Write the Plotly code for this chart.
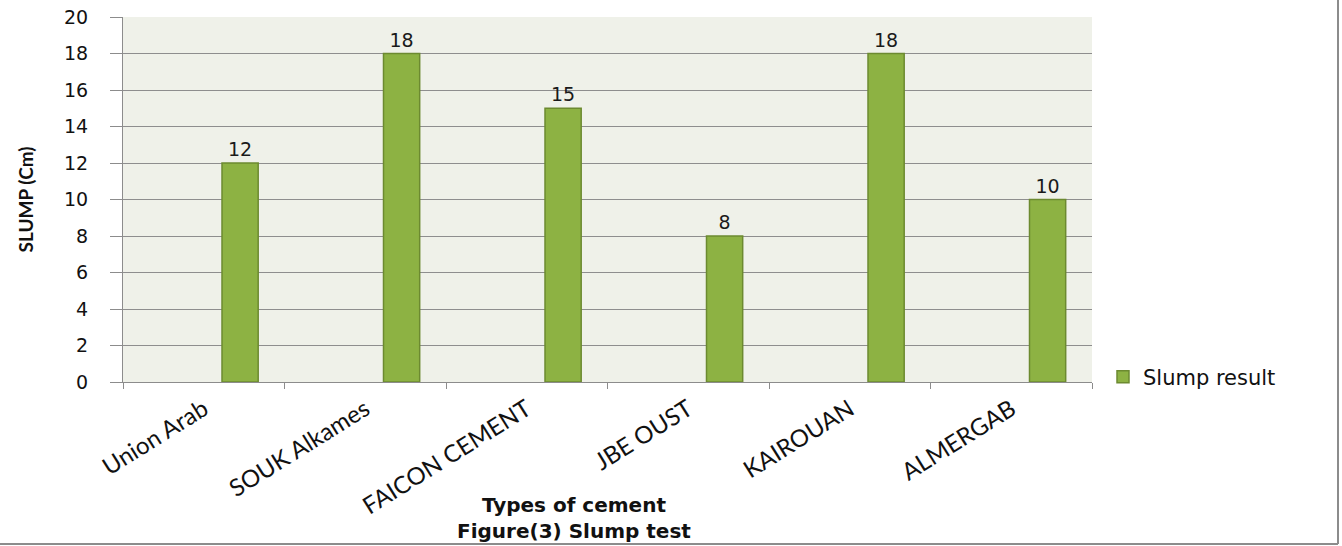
import plotly.graph_objects as go

categories = ["Union Arab", "SOUK Alkames", "FAICON CEMENT", "JBE OUST", "KAIROUAN", "ALMERGAB"]
slump_values = [12, 18, 15, 8, 18, 10]
series_name = "Slump result"
y_ticks = [0, 2, 4, 6, 8, 10, 12, 14, 16, 18, 20]

L, R, T, B = 123, 250, 17, 164
W, H = 1342, 546
pw = W - L - R
ph = H - T - B

def px_x(x):
    return (x - L) / pw

def px_y(y):
    return (H - B - y) / ph

fig = go.Figure()
fig.add_trace(go.Bar(
    x=categories,
    y=slump_values,
    name=series_name,
    offset=0.113,
    width=0.224,
    marker=dict(color="#8DB243", line=dict(color="#6C8A30", width=1.5)),
    text=[str(v) for v in slump_values],
    textposition="outside",
    textfont=dict(family="DejaVu Sans", size=19, color="#1a1a1a"),
    cliponaxis=False,
    showlegend=True,
))

fig.update_layout(
    width=W, height=H,
    margin=dict(l=L, r=R, t=T, b=B, pad=0, autoexpand=False),
    paper_bgcolor="white",
    plot_bgcolor="#EFF1E9",
    showlegend=True,
    legend=dict(
        x=px_x(1103), y=px_y(377), xanchor="left", yanchor="middle",
        font=dict(family="DejaVu Sans", size=21, color="#111"),
        bgcolor="rgba(0,0,0,0)",
    ),
    xaxis=dict(
        type="category",
        automargin=False,
        range=[-0.5, len(categories) - 0.5],
        showline=True, linecolor="#8C8C8C", linewidth=1,
        ticks="outside", ticklen=6, tickcolor="#8C8C8C",
        tickson="boundaries",
        tickangle=-32,
        ticklabelstandoff=3,
        tickfont=dict(family="Lato", size=24, color="#111"),
        showgrid=False,
    ),
    yaxis=dict(
        automargin=False,
        range=[0, 20],
        tickvals=y_ticks,
        showline=True, linecolor="#8C8C8C", linewidth=1,
        ticks="outside", ticklen=12, tickcolor="#8C8C8C",
        ticklabelstandoff=18,
        tickfont=dict(family="DejaVu Sans", size=19, color="#111"),
        showgrid=True, gridcolor="#8E8E8E", gridwidth=1,
        zeroline=False,
    ),
    annotations=[
        dict(text="<b>SLUMP (Cm)</b>", textangle=-90,
             x=px_x(25), y=0.5, xref="paper", yref="paper",
             xanchor="center", yanchor="middle", showarrow=False,
             font=dict(family="Lato", size=19, color="#111")),
        dict(text="<b>Types of cement</b><br><b>Figure(3) Slump test</b>",
             x=px_x(574), y=px_y(518), xref="paper", yref="paper",
             xanchor="center", yanchor="middle", showarrow=False,
             font=dict(family="DejaVu Sans", size=20, color="#111")),
    ],
    shapes=[
        dict(type="line", xref="paper", yref="paper",
             x0=px_x(1338), x1=px_x(1338), y0=px_y(0), y1=px_y(544),
             line=dict(color="#8C8C8C", width=2)),
        dict(type="line", xref="paper", yref="paper",
             x0=px_x(0), x1=px_x(1338), y0=px_y(544), y1=px_y(544),
             line=dict(color="#8C8C8C", width=2)),
    ],
)

fig.write_html("out.html")
